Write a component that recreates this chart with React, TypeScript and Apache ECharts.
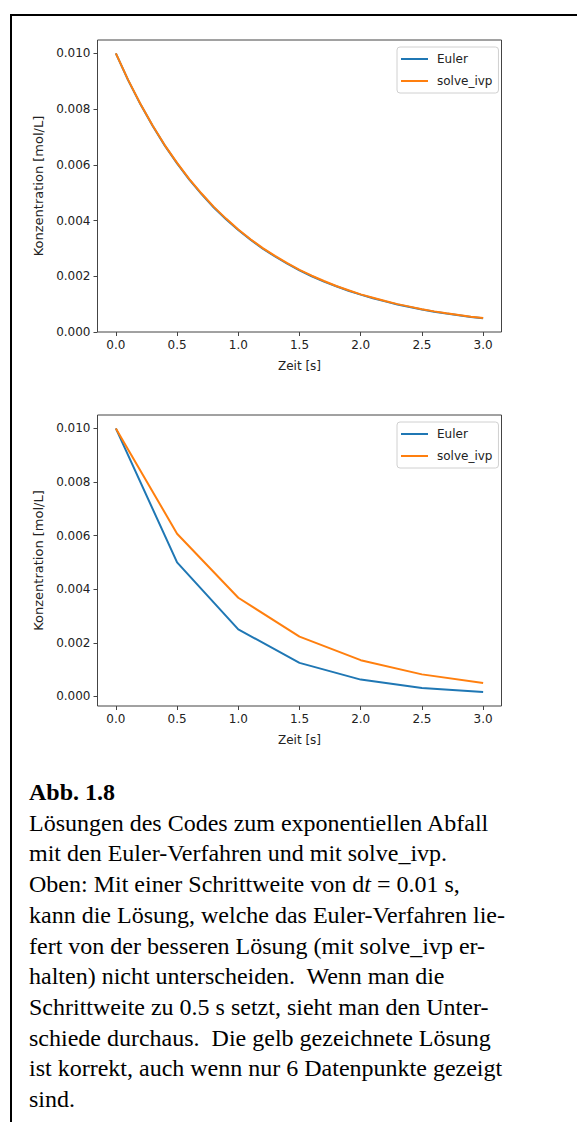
import React, { useEffect, useRef } from "react";
import * as echarts from "echarts";

// ---- data ----
const timeFine = [0.0, 0.1, 0.2, 0.3, 0.4, 0.5, 0.6, 0.7, 0.8, 0.9, 1.0, 1.1, 1.2, 1.3, 1.4, 1.5, 1.6, 1.7, 1.8, 1.9, 2.0, 2.1, 2.2, 2.3, 2.4, 2.5, 2.6, 2.7, 2.8, 2.9, 3.0];
const eulerFine = [0.01, 0.00904, 0.00818, 0.0074, 0.00669, 0.00605, 0.00547, 0.00495, 0.00447, 0.00405, 0.00366, 0.00331, 0.00299, 0.00271, 0.00245, 0.00221, 0.002, 0.00181, 0.00164, 0.00148, 0.00134, 0.00121, 0.0011, 0.00099, 0.0009, 0.00081, 0.00073, 0.00066, 0.0006, 0.00054, 0.00049];
const ivpFine = [0.01, 0.00905, 0.00819, 0.00741, 0.0067, 0.00607, 0.00549, 0.00497, 0.00449, 0.00407, 0.00368, 0.00333, 0.00301, 0.00273, 0.00247, 0.00223, 0.00202, 0.00183, 0.00165, 0.0015, 0.00135, 0.00123, 0.00111, 0.001, 0.00091, 0.00082, 0.00074, 0.00067, 0.00061, 0.00055, 0.0005];

const timeCoarse = [0.0, 0.5, 1.0, 1.5, 2.0, 2.5, 3.0];
const eulerCoarse = [0.01, 0.005, 0.0025, 0.00125, 0.000625, 0.0003125, 0.00016];
const ivpCoarse = [0.01, 0.00607, 0.00368, 0.00223, 0.00135, 0.00082, 0.0005];

const xTicks = [0.0, 0.5, 1.0, 1.5, 2.0, 2.5, 3.0];
const yTicks = [0.0, 0.002, 0.004, 0.006, 0.008, 0.01];

const seriesNames = ["Euler", "solve_ivp"];
const xAxisTitle = "Zeit [s]";
const yAxisTitle = "Konzentration [mol/L]";

const captionTitle = "Abb. 1.8";
const captionLines = [
  "Lösungen des Codes zum exponentiellen Abfall",
  "mit den Euler-Verfahren und mit solve_ivp.",
  "{n|Oben: Mit einer Schrittweite von d}{i|t}{n| = 0.01 s,}",
  "kann die Lösung, welche das Euler-Verfahren lie-",
  "fert von der besseren Lösung (mit solve_ivp er-",
  "halten) nicht unterscheiden.  Wenn man die",
  "Schrittweite zu 0.5 s setzt, sieht man den Unter-",
  "schiede durchaus.  Die gelb gezeichnete Lösung",
  "ist korrekt, auch wenn nur 6 Datenpunkte gezeigt",
  "sind.",
];

const BLUE = "#1f77b4";
const ORANGE = "#ff7f0e";
const AX = "#444444";
const FONT = "DejaVu Sans";

function pairs(xs: number[], ys: number[]) {
  return xs.map((x, i) => [x, ys[i]]);
}

function makeX(gridIndex: number) {
  return {
    type: "value",
    gridIndex,
    min: -0.15,
    max: 3.15,
    name: xAxisTitle,
    nameLocation: "middle",
    nameGap: 28,
    nameTextStyle: { fontFamily: FONT, fontSize: 12, color: "#222" },
    axisLine: { show: false, onZero: false },
    splitLine: { show: false },
    axisTick: { show: true, length: 4, lineStyle: { color: AX, width: 1 }, customValues: xTicks },
    axisLabel: {
      customValues: xTicks,
      margin: 7,
      fontFamily: FONT,
      fontSize: 12,
      color: "#222",
      formatter: (v: number) => v.toFixed(1),
    },
  };
}

function makeY(gridIndex: number, min: number, max: number) {
  return {
    type: "value",
    gridIndex,
    min,
    max,
    name: yAxisTitle,
    nameLocation: "middle",
    nameGap: 46,
    nameTextStyle: { fontFamily: FONT, fontSize: 13, color: "#222" },
    axisLine: { show: false, onZero: false },
    splitLine: { show: false },
    axisTick: { show: true, length: 4, lineStyle: { color: AX, width: 1 }, customValues: yTicks },
    axisLabel: {
      customValues: yTicks,
      margin: 7,
      fontFamily: FONT,
      fontSize: 12,
      color: "#222",
      formatter: (v: number) => v.toFixed(3),
    },
  };
}

function makeLegend(top: number) {
  return {
    data: seriesNames,
    orient: "vertical",
    left: 397,
    top,
    width: 99,
    padding: [6, 6, 6, 4],
    itemGap: 10,
    itemWidth: 27,
    itemHeight: 2,
    icon: "rect",
    backgroundColor: "#ffffff",
    borderColor: "#d0d0d0",
    borderWidth: 1,
    borderRadius: 3,
    selectedMode: false,
    textStyle: { fontFamily: FONT, fontSize: 12, color: "#222", padding: [0, 0, 0, 4] },
  };
}

export default function App() {
  const ref = useRef<HTMLDivElement>(null);
  useEffect(() => {
    if (!ref.current) return;
    const chart = echarts.init(ref.current, null, { renderer: "svg" });
    const serif = "'Liberation Serif', 'Times New Roman', serif";
    const lineH = 30.7;
    const firstCenter = 792;
    const graphic: any[] = [
      { type: "line", shape: { x1: 11, y1: 15, x2: 577, y2: 15 }, style: { stroke: "#000", lineWidth: 2 } },
      { type: "line", shape: { x1: 11, y1: 14, x2: 11, y2: 1122 }, style: { stroke: "#000", lineWidth: 2 } },
      {
        type: "text",
        x: 29,
        y: firstCenter,
        style: { text: captionTitle, font: `bold 24px ${serif}`, fill: "#000", verticalAlign: "middle", align: "left" },
      },
    ];
    captionLines.forEach((line, i) => {
      graphic.push({
        type: "text",
        x: 29,
        y: firstCenter + (i + 1) * lineH,
        style: {
          text: line,
          fontFamily: serif,
          fontSize: 24,
          fill: "#000",
          verticalAlign: "middle",
          align: "left",
          rich: {
            n: { fontFamily: serif, fontSize: 24, fill: "#000" },
            i: { fontFamily: serif, fontSize: 24, fontStyle: "italic", fill: "#000" },
          },
        },
      });
    });

    chart.setOption({
      animation: false,
      backgroundColor: "#ffffff",
      grid: [
        { left: 97.5, top: 40, width: 404, height: 292, show: true, borderColor: AX, borderWidth: 1, backgroundColor: "transparent" },
        { left: 97.5, top: 415, width: 404, height: 291, show: true, borderColor: AX, borderWidth: 1, backgroundColor: "transparent" },
      ],
      xAxis: [makeX(0), makeX(1)],
      yAxis: [makeY(0, 0, 0.01048), makeY(1, -0.00036, 0.0105)],
      legend: [makeLegend(47), makeLegend(422)],
      series: [
        { name: "Euler", type: "line", xAxisIndex: 0, yAxisIndex: 0, data: pairs(timeFine, eulerFine), showSymbol: false, symbol: "none", lineStyle: { color: BLUE, width: 2 }, itemStyle: { color: BLUE } },
        { name: "solve_ivp", type: "line", xAxisIndex: 0, yAxisIndex: 0, data: pairs(timeFine, ivpFine), showSymbol: false, symbol: "none", lineStyle: { color: ORANGE, width: 2 }, itemStyle: { color: ORANGE } },
        { name: "Euler", type: "line", xAxisIndex: 1, yAxisIndex: 1, data: pairs(timeCoarse, eulerCoarse), showSymbol: false, symbol: "none", lineStyle: { color: BLUE, width: 2 }, itemStyle: { color: BLUE } },
        { name: "solve_ivp", type: "line", xAxisIndex: 1, yAxisIndex: 1, data: pairs(timeCoarse, ivpCoarse), showSymbol: false, symbol: "none", lineStyle: { color: ORANGE, width: 2 }, itemStyle: { color: ORANGE } },
      ],
      graphic,
    });
    return () => chart.dispose();
  }, []);
  return (
    <div
      ref={ref}
      style={{ position: "absolute", left: 0, top: 0, width: 577, height: 1122, background: "#fff" }}
    />
  );
}
